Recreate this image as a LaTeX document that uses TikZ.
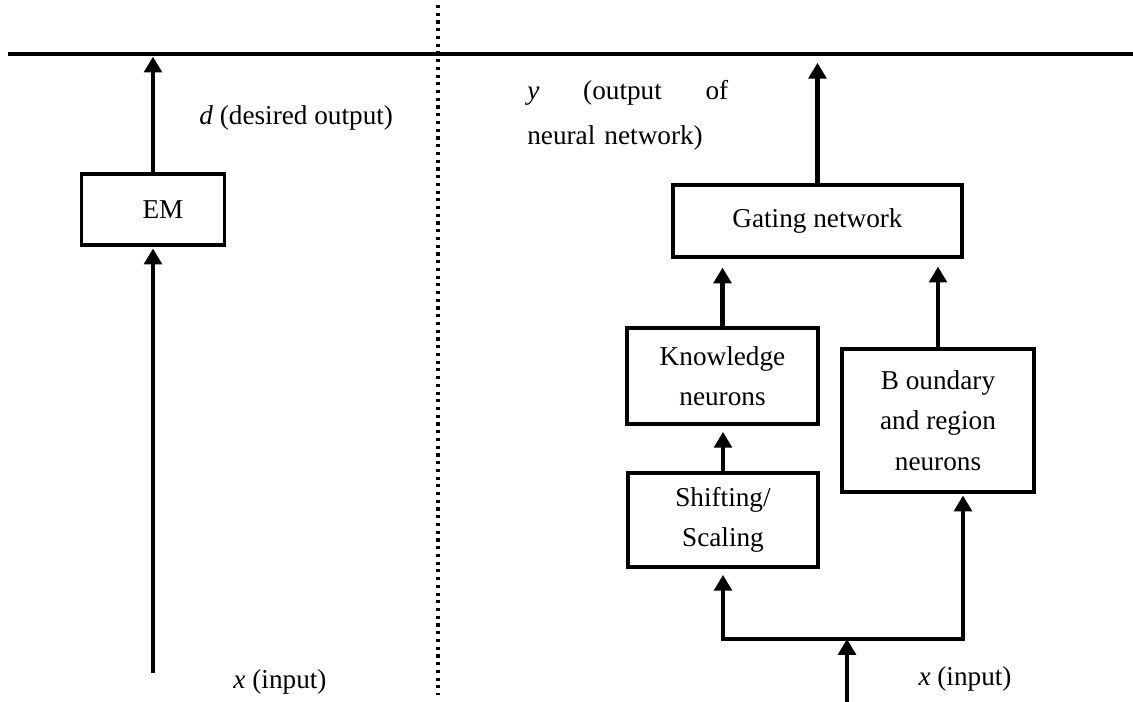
\documentclass[tikz,border=0pt]{standalone}
\usepackage{fontspec}
\setmainfont{Liberation Serif}
\usepackage{tikz}
\usetikzlibrary{arrows.meta}

\begin{document}
\begin{tikzpicture}[x=0.02cm, y=-0.02cm]%
  \tikzset{normal arrow/.style={draw,-{Triangle[length=9pt,width=10pt]},line width=2.3pt,black}}
  \tikzset{box/.style={draw, line width=2pt, align=center, inner sep=0pt, outer sep=0pt, font=\fontsize{15.5}{23}\selectfont}}
  \tikzstyle{every node}=[font=\fontsize{15.5}{23}\selectfont]

  \useasboundingbox (0,0) rectangle (1133,702);

  % output line and divider
  \coordinate (lineL) at (8,54);
  \coordinate (lineR) at (1133,54);
  \draw[line width=1.8pt] (lineL) -- (lineR);
  \draw[line width=1.8pt, dash pattern=on 1.8pt off 2.6pt] (438,5) -- (438,695);

  % left: EM
  \node[box, minimum width=2.86cm, minimum height=1.42cm] at (153,209.5) (EM) {\hspace*{0.4cm}EM};
  \coordinate (inL) at (153,673);
  \path[normal arrow, shorten >=2pt] (inL) -- (EM.south);
  \path[normal arrow, shorten >=1.5pt] (EM.north) -- (EM.north |- lineL);
  \node[anchor=west, inner sep=0pt] at (199,118) (dlab) {\textit{d} (desired output)};
  \node[inner sep=0pt] at (280,682) (xlabL) {\textit{x} (input)};

  % right: neural network
  \node[box, minimum width=5.78cm, minimum height=1.44cm] at (817.5,221) (GN) {Gating network};
  \node[box, minimum width=3.82cm, minimum height=1.92cm] at (722.5,376) (KN) {Knowledge\\neurons};
  \node[box, minimum width=3.8cm, minimum height=1.88cm] at (723,520) (SS) {Shifting/\\Scaling};
  \node[box, minimum width=3.84cm, minimum height=2.86cm] at (938,420.5) (BRN) {B oundary\\and region\\neurons};

  \node[anchor=north west, inner sep=0pt, text width=4.02cm, align=left,
        font=\fontsize{15.5}{25.5}\selectfont] at (527,80) (ylab)
        {\textit{y}\hfill(output\hfill of\\neural network)};
  \node[inner sep=0pt] at (965,679) (xlabR) {\textit{x} (input)};

  \path[normal arrow, shorten >=5pt] (GN.north) -- (GN.north |- lineL);
  \path[normal arrow, shorten >=6pt] (KN.north) -- (KN.north |- GN.south);
  \path[normal arrow, shorten >=5.5pt] (BRN.north) -- (BRN.north |- GN.south);
  \path[normal arrow, shorten >=4.5pt] (SS.north) -- (SS.north |- KN.south);

  \coordinate (split) at (847,639);
  \coordinate (inR) at (847,702);
  \path[normal arrow, shorten >=0pt] (inR) -- (split);
  \path[normal arrow, shorten >=4.5pt] (split) -| (SS.south);
  \path[normal arrow, shorten >=2pt] (split) -| ([xshift=5mm]BRN.south);
\end{tikzpicture}
\end{document}
